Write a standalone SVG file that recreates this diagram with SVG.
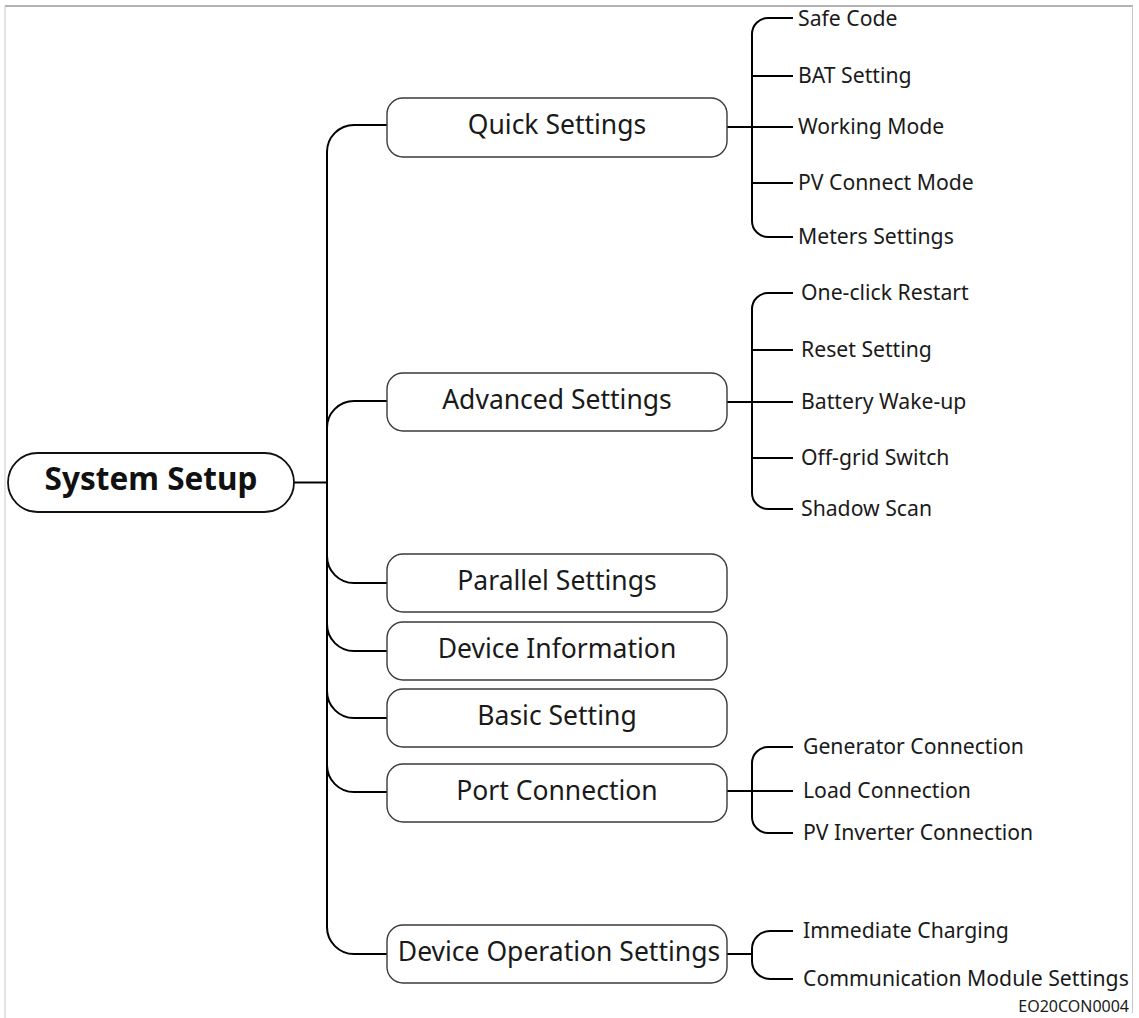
<svg xmlns="http://www.w3.org/2000/svg" width="1139" height="1018" viewBox="0 0 1139 1018">
<style>
.frame{fill:none;stroke:#c8c8c8;stroke-width:1}
.node rect{fill:#fff;stroke:#3a3a3a;stroke-width:1.4}
.node text{font-family:"Noto Sans","Open Sans",sans-serif;font-size:26.5px;fill:#1a1a1a;text-anchor:middle}
.root text{font-weight:bold;font-size:31.5px;fill:#111}
.root rect{stroke:#111;stroke-width:1.8}
.leaf text{font-family:"Noto Sans","Open Sans",sans-serif;font-size:21.2px;fill:#1a1a1a}
.conn path{fill:none;stroke:#000;stroke-width:2}
.code{font-family:"Noto Sans","Open Sans",sans-serif;font-size:16px;fill:#1a1a1a;text-anchor:end}
</style>
<rect width="1139" height="1018" fill="#fff"/>
<line x1="5" y1="6" x2="1133" y2="6" stroke="#666" stroke-width="1.2"/>
<line x1="5" y1="6" x2="5" y2="1018" class="frame"/>
<line x1="1132.5" y1="6" x2="1132.5" y2="1013" class="frame"/>

<g id="connectors" class="conn">
<path d="M294,482.5 L327,482.5"/>
<path d="M327,152 L327,927"/>
<path d="M327,152 A27,27 0 0 1 354,125 L387,125"/>
<path d="M327,428 A27,27 0 0 1 354,401 L387,401"/>
<path d="M327,556 A27,27 0 0 0 354,583 L387,583"/>
<path d="M327,624 A27,27 0 0 0 354,651 L387,651"/>
<path d="M327,691 A27,27 0 0 0 354,718 L387,718"/>
<path d="M327,765 A27,27 0 0 0 354,792 L387,792"/>
<path d="M327,927 A27,27 0 0 0 354,954 L387,954"/>
<!-- Quick Settings -->
<path d="M727,127 L793,127"/>
<path d="M793,18 L768,18 A16,16 0 0 0 752,34 L752,221 A16,16 0 0 0 768,237 L793,237"/>
<path d="M752,76 L793,76"/>
<path d="M752,183 L793,183"/>
<!-- Advanced Settings -->
<path d="M727,402 L793,402"/>
<path d="M793,293 L768,293 A16,16 0 0 0 752,309 L752,493 A16,16 0 0 0 768,509 L793,509"/>
<path d="M752,350 L793,350"/>
<path d="M752,458 L793,458"/>
<!-- Port Connection -->
<path d="M727,791 L793,791"/>
<path d="M793,747 L768,747 A16,16 0 0 0 752,763 L752,817 A16,16 0 0 0 768,833 L793,833"/>
<!-- Device Operation Settings -->
<path d="M727,954 L752,954"/>
<path d="M793,931 L770,931 A18,18 0 0 0 752,949 L752,961 A18,18 0 0 0 770,979 L793,979"/>
</g>

<g id="n-root" class="node root"><rect x="8" y="453" width="286" height="59" rx="29.5"/><text x="151" y="490">System Setup</text></g>
<g id="n-quick" class="node"><rect x="387" y="98" width="340" height="59" rx="16"/><text x="557" y="134">Quick Settings</text></g>
<g id="n-advanced" class="node"><rect x="387" y="373" width="340" height="58" rx="16"/><text x="557" y="409">Advanced Settings</text></g>
<g id="n-parallel" class="node"><rect x="387" y="554" width="340" height="58" rx="16"/><text x="557" y="590">Parallel Settings</text></g>
<g id="n-devinfo" class="node"><rect x="387" y="622" width="340" height="58" rx="16"/><text x="557" y="658">Device Information</text></g>
<g id="n-basic" class="node"><rect x="387" y="689" width="340" height="58" rx="16"/><text x="557" y="725">Basic Setting</text></g>
<g id="n-port" class="node"><rect x="387" y="764" width="340" height="58" rx="16"/><text x="557" y="800">Port Connection</text></g>
<g id="n-devop" class="node"><rect x="387" y="925" width="340" height="58" rx="16"/><text x="559" y="961">Device Operation Settings</text></g>

<g id="l-safecode" class="leaf"><text x="798" y="26">Safe Code</text></g>
<g id="l-bat" class="leaf"><text x="798" y="83">BAT Setting</text></g>
<g id="l-working" class="leaf"><text x="798" y="134">Working Mode</text></g>
<g id="l-pvconnect" class="leaf"><text x="798" y="190">PV Connect Mode</text></g>
<g id="l-meters" class="leaf"><text x="798" y="244">Meters Settings</text></g>

<g id="l-restart" class="leaf"><text x="801" y="300">One-click Restart</text></g>
<g id="l-reset" class="leaf"><text x="801" y="357">Reset Setting</text></g>
<g id="l-wake" class="leaf"><text x="801" y="409">Battery Wake-up</text></g>
<g id="l-offgrid" class="leaf"><text x="801" y="465">Off-grid Switch</text></g>
<g id="l-shadow" class="leaf"><text x="801" y="516">Shadow Scan</text></g>

<g id="l-generator" class="leaf"><text x="803" y="754">Generator Connection</text></g>
<g id="l-load" class="leaf"><text x="803" y="798">Load Connection</text></g>
<g id="l-pvinv" class="leaf"><text x="803" y="840">PV Inverter Connection</text></g>

<g id="l-immediate" class="leaf"><text x="803" y="938">Immediate Charging</text></g>
<g id="l-comm" class="leaf"><text x="803" y="986">Communication Module Settings</text></g>

<text class="code" x="1129" y="1012">EO20CON0004</text>
</svg>
